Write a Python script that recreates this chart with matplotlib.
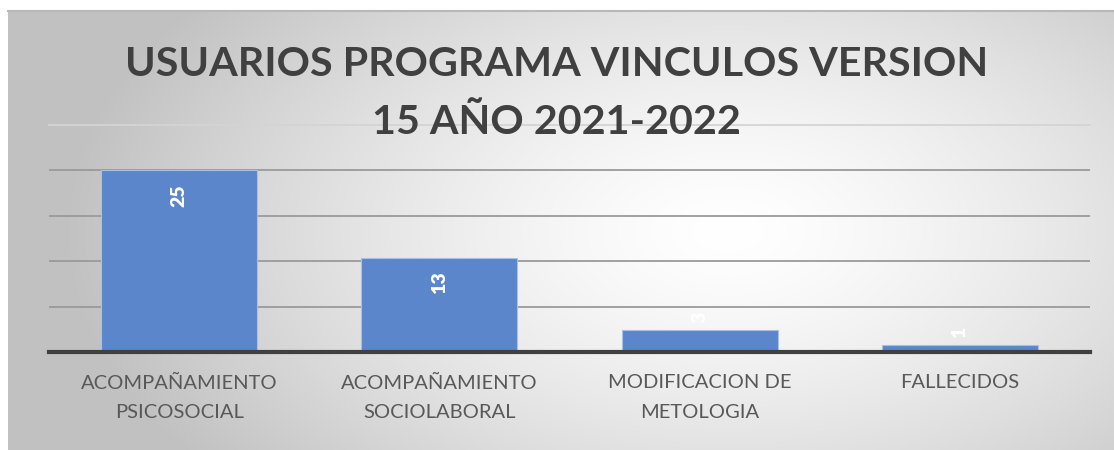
import numpy as np
import matplotlib.pyplot as plt

categorias = ["ACOMPAÑAMIENTO\nPSICOSOCIAL", "ACOMPAÑAMIENTO\nSOCIOLABORAL",
              "MODIFICACION DE\nMETOLOGIA", "FALLECIDOS"]
usuarios = [25, 13, 3, 1]
titulo = "USUARIOS PROGRAMA VINCULOS VERSION\n15 AÑO 2021-2022"

W, H = 1114, 450
fig = plt.figure(figsize=(W / 100, H / 100), dpi=100)
fig.patch.set_facecolor("white")

# background panel with radial gradient
bg = fig.add_axes([8 / W, 0, (W - 8) / W, (H - 11) / H])
yy, xx = np.mgrid[0:H - 11, 0:W - 8]
cx, cy = 720, 220
r = np.sqrt(((xx - cx) / 660.0) ** 2 + ((yy - cy) / 380.0) ** 2)
g = 1 - 0.24 * np.clip(r, 0, 1) ** 1.4
img = np.dstack([g, g, g])
bg.imshow(img, aspect="auto", extent=[0, 1, 0, 1], interpolation="bilinear")
bg.set_xlim(0, 1)
bg.set_ylim(0, 1)
bg.axis("off")
bg.plot([0, 1], [1, 1], color="#b8b8b8", lw=1.5, transform=bg.transAxes, clip_on=False)

# plot area: x 49..1090, y 125..352 (pixels from top)
ax = fig.add_axes([49 / W, (H - 352) / H, (1090 - 49) / W, (352 - 125) / H])
ax.patch.set_alpha(0)
x = np.arange(len(categorias))
bars = ax.bar(x, usuarios, width=0.6, color="#5b86cc", edgecolor="#a9c0e6", lw=0.8, zorder=3)
ax.set_xlim(-0.5, len(categorias) - 0.5)
ax.set_ylim(0, 31.25)
ax.set_yticks([6.25, 12.5, 18.75, 25])
ax.yaxis.grid(True, color="#9a9a9a", lw=1.3, zorder=0)
ax.axhline(31.25, color="#d4d4d4", lw=1.3, zorder=0, clip_on=False)
ax.tick_params(axis="y", left=False, labelleft=False)
ax.tick_params(axis="x", bottom=False, labelbottom=False)
for s in ["top", "right", "left"]:
    ax.spines[s].set_visible(False)
ax.spines["bottom"].set_color("#404040")
ax.spines["bottom"].set_linewidth(3)
ax.spines["bottom"].set_zorder(4)
ax.set_xticks(x)

# category labels, one text per line (pixel rows 383 and 412)
for xi, cat in zip(x, categorias):
    for k, linea in enumerate(cat.split("\n")):
        ax.annotate(linea, (xi, 0), xytext=(0, -(383 + 29 * k - 352) * 0.72),
                    textcoords="offset points", ha="center", va="center",
                    fontsize=14.5, color="#595959", family="Lato", annotation_clip=False)

for xi, v in zip(x, usuarios):
    off = -18 if v > 8 else 9
    ax.annotate(str(v), (xi, v), xytext=(0, off), textcoords="offset points",
                rotation=90, ha="center", va="center", color="white",
                fontsize=14, fontweight="heavy", family="Lato", zorder=5)

for k, linea in enumerate(titulo.split("\n")):
    fig.text(0.5 * (1 + 8 / W) - 0.004, (H - 65 - 57 * k) / H, linea, ha="center", va="center",
             fontsize=29.7, fontweight="bold", color="#404040", family="Lato")

fig.savefig("out.png", dpi=100)
